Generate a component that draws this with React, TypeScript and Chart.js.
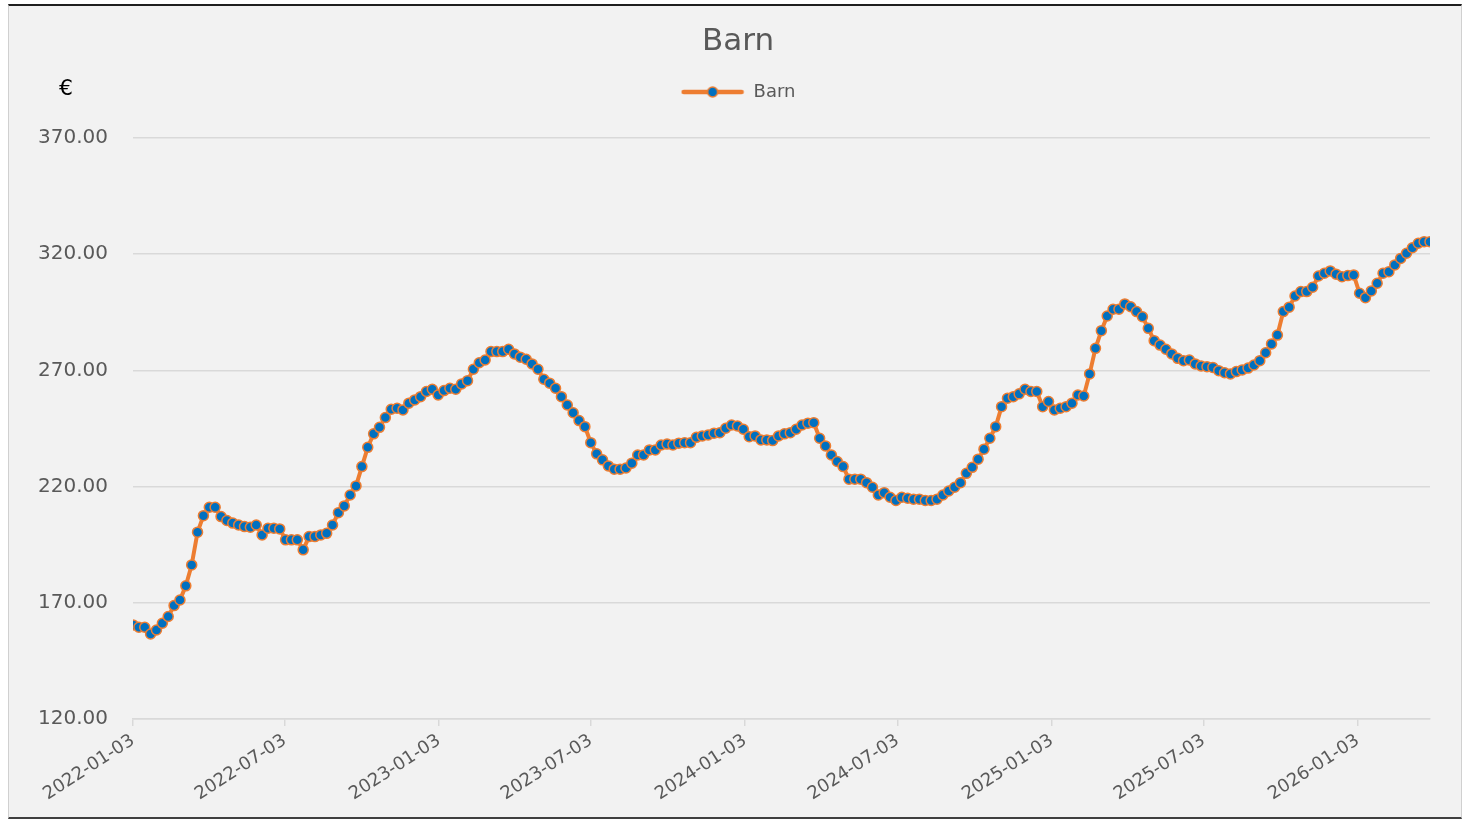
import React, { useEffect, useRef } from 'react';
import { Chart, registerables } from 'chart.js';

Chart.register(...registerables);

const CHART_TITLE = 'Barn';
const SERIES_NAME = 'Barn';
const Y_UNIT = '€';
const START_DATE = '2022-01-03'; // first weekly observation (Mondays)

// Weekly prices (€)
const barnValues: number[] = [
  160.5, 159.5, 159.5, 156.6, 158.3, 161.2, 164.1, 168.8, 171.2, 177.3,
  186.3, 200.4, 207.5, 211.1, 211.1, 207.1, 205.4, 204.3, 203.5, 202.8,
  202.5, 203.5, 199.2, 202.1, 202.1, 201.8, 197.1, 197.1, 197.1, 192.8,
  198.5, 198.5, 199.2, 199.9, 203.5, 208.8, 211.7, 216.4, 220.3, 228.6,
  236.9, 242.7, 245.5, 249.7, 253.3, 253.7, 253.0, 255.9, 257.3, 258.7,
  260.9, 261.9, 259.4, 261.3, 262.3, 261.9, 264.2, 265.6, 270.5, 273.3,
  274.5, 278.1, 278.1, 278.1, 279.1, 277.1, 275.7, 274.8, 272.8, 270.5,
  266.2, 264.5, 262.3, 258.7, 255.1, 251.8, 248.4, 245.8, 238.9, 234.1,
  231.5, 228.9, 227.5, 227.5, 228.0, 230.1, 233.6, 233.6, 235.8, 235.8,
  237.9, 238.3, 237.9, 238.7, 238.9, 238.9, 241.2, 241.8, 242.2, 243.0,
  243.2, 245.1, 246.5, 246.1, 244.7, 241.5, 241.8, 240.1, 240.1, 239.8,
  241.8, 242.7, 243.2, 244.7, 246.5, 247.3, 247.5, 240.8, 237.5, 233.6,
  230.8, 228.6, 223.2, 223.2, 223.2, 221.7, 219.7, 216.4, 217.4, 215.4,
  214.0, 215.4, 215.0, 214.6, 214.6, 214.0, 214.0, 214.6, 216.4, 218.1,
  219.7, 221.7, 225.7, 228.3, 231.8, 236.1, 240.8, 245.8, 254.4, 258.0,
  258.7, 259.9, 261.9, 260.9, 260.9, 254.4, 256.6, 253.0, 253.7, 254.4,
  255.9, 259.4, 259.0, 268.5, 279.5, 287.1, 293.4, 296.3, 296.3, 298.6,
  297.4, 295.3, 293.1, 288.1, 282.8, 280.9, 279.1, 277.1, 275.2, 274.2,
  274.5, 272.8, 271.9, 271.6, 271.3, 269.9, 269.0, 268.5, 269.5, 270.2,
  271.0, 272.3, 274.2, 277.6, 281.4, 285.2, 295.3, 297.2, 302.0, 303.9,
  303.9, 305.8, 310.6, 311.8, 312.8, 311.4, 310.3, 310.8, 311.1, 303.2,
  301.3, 304.2, 307.5, 311.8, 312.5, 315.4, 318.2, 320.4, 322.8, 324.7,
  325.4, 325.4,
];

const xTickLabels: string[] = [
  '2022-01-03', '2022-07-03', '2023-01-03', '2023-07-03', '2024-01-03',
  '2024-07-03', '2025-01-03', '2025-07-03', '2026-01-03',
];

const Y_MIN = 120;
const Y_MAX = 370;
const Y_STEP = 50;

const TEXT = '#595959';
const GRID = '#d9d9d9';
const ORANGE = '#ed7d31';
const BLUE = '#0070c0';
const FONT = '"DejaVu Sans", Verdana, sans-serif';

const DAY_MS = 86400000;
const dayOffset = (iso: string): number => {
  const [y, m, d] = iso.split('-').map(Number);
  const [sy, sm, sd] = START_DATE.split('-').map(Number);
  return Math.round((Date.UTC(y, m - 1, d) - Date.UTC(sy, sm - 1, sd)) / DAY_MS);
};

const makeLegendIcon = (): HTMLCanvasElement => {
  const c = document.createElement('canvas');
  c.width = 64;
  c.height = 14;
  const g = c.getContext('2d')!;
  g.strokeStyle = ORANGE;
  g.lineWidth = 4.5;
  g.lineCap = 'round';
  g.beginPath();
  g.moveTo(3, 7);
  g.lineTo(61, 7);
  g.stroke();
  g.beginPath();
  g.arc(32, 7, 5, 0, Math.PI * 2);
  g.fillStyle = BLUE;
  g.fill();
  g.lineWidth = 1.5;
  g.strokeStyle = ORANGE;
  g.stroke();
  return c;
};

const euroPlugin = {
  id: 'euroUnit',
  afterDraw(chart: any) {
    const { ctx, chartArea } = chart;
    ctx.save();
    ctx.font = `22px ${FONT}`;
    ctx.fillStyle = '#000000';
    ctx.textAlign = 'center';
    ctx.textBaseline = 'middle';
    ctx.fillText(Y_UNIT, chartArea.left - 67, chartArea.top - 49);
    ctx.restore();
  },
};

export default function App() {
  const canvasRef = useRef<HTMLCanvasElement | null>(null);

  useEffect(() => {
    if (!canvasRef.current) return;
    const icon = makeLegendIcon();
    const points = barnValues.map((v, i) => ({ x: i * 7, y: v }));
    const chart = new Chart(canvasRef.current, {
      type: 'line',
      data: {
        datasets: [
          {
            label: SERIES_NAME,
            data: points,
            borderColor: ORANGE,
            borderWidth: 4,
            backgroundColor: BLUE,
            pointBackgroundColor: BLUE,
            pointBorderColor: ORANGE,
            pointBorderWidth: 1.5,
            pointRadius: 5,
            tension: 0,
            fill: false,
          },
        ],
      },
      options: {
        animation: false,
        responsive: false,
        layout: { padding: { left: 6, right: 0, top: 0, bottom: 0 } },
        plugins: {
          title: {
            display: true,
            text: CHART_TITLE,
            color: TEXT,
            font: { family: FONT, size: 31, weight: 'normal', lineHeight: 1.2 },
            padding: { top: 17.4, bottom: 12.4 },
          },
          // empty spacer between the legend and the plot area
          subtitle: {
            display: true,
            text: '',
            weight: 500,
            font: { family: FONT, size: 10, lineHeight: 1 },
            padding: { top: 17, bottom: 0 },
          },
          legend: {
            display: true,
            position: 'top',
            labels: {
              usePointStyle: true,
              pointStyleWidth: 64,
              padding: 10,
              color: TEXT,
              font: { family: FONT, size: 18 },
              generateLabels: () => [
                {
                  text: SERIES_NAME,
                  pointStyle: icon,
                  fillStyle: 'rgba(0,0,0,0)',
                  strokeStyle: 'rgba(0,0,0,0)',
                  lineWidth: 0,
                  fontColor: TEXT,
                  hidden: false,
                  datasetIndex: 0,
                } as any,
              ],
            },
          },
          tooltip: { enabled: false },
        },
        scales: {
          x: {
            type: 'linear',
            min: 0,
            max: (barnValues.length - 1) * 7,
            afterBuildTicks: (scale: any) => {
              scale.ticks = xTickLabels.map((l) => ({ value: dayOffset(l) }));
            },
            afterFit: (scale: any) => {
              scale.height = 98;
              scale.paddingRight = 31;
            },
            ticks: {
              autoSkip: false,
              maxRotation: 33,
              minRotation: 33,
              padding: 4,
              color: TEXT,
              font: { family: FONT, size: 18 },
              callback: (_v: any, i: number) => xTickLabels[i],
            },
            grid: {
              drawOnChartArea: false,
              drawTicks: true,
              tickLength: 7,
              color: GRID,
              lineWidth: 1.5,
            },
            border: { display: true, color: GRID, width: 1.5 },
          },
          y: {
            min: Y_MIN,
            max: Y_MAX,
            afterFit: (scale: any) => {
              scale.width = 118;
            },
            ticks: {
              stepSize: Y_STEP,
              padding: 25,
              color: TEXT,
              font: { family: FONT, size: 20 },
              callback: (v: any) => Number(v).toFixed(2),
            },
            grid: { color: GRID, drawTicks: false, lineWidth: 1.5 },
            border: { display: false },
          },
        },
      },
      plugins: [euroPlugin],
    } as any);
    return () => chart.destroy();
  }, []);

  return (
    <div
      style={{
        position: 'fixed',
        left: 8,
        top: 4,
        width: 1454,
        height: 815,
        boxSizing: 'border-box',
        background: '#f2f2f2',
        borderTop: '2px solid #1f1f1f',
        borderBottom: '2px solid #404040',
        borderLeft: '1px solid #d0d0d0',
        borderRight: '1px solid #d0d0d0',
      }}
    >
      <canvas ref={canvasRef} width={1452} height={811} style={{ display: 'block' }} />
    </div>
  );
}
